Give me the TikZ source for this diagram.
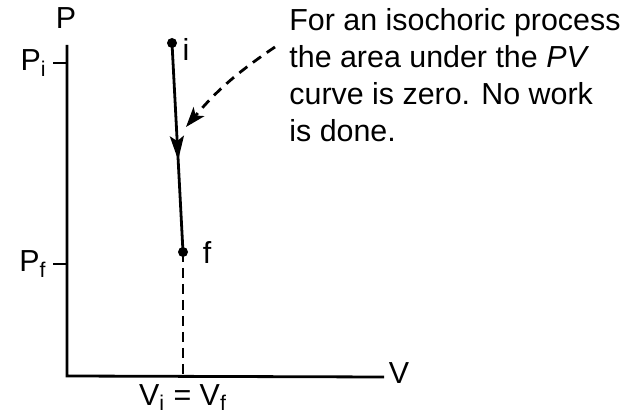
\documentclass[tikz,border=0pt]{standalone}
\usepackage{fontspec}
\setmainfont{Liberation Sans}
\usepackage{tikz}
\usetikzlibrary{arrows.meta,positioning,calc,decorations.markings}

\begin{document}
\begin{tikzpicture}[x=0.5pt, y=-0.5pt, every node/.style={font=\fontsize{15.2}{18.5}\selectfont, inner sep=1pt},
  ax/.style={line width=1.4pt},
  pt/.style={circle, fill, inner sep=0pt, minimum size=5pt},
  midarr/.style={postaction={decorate}, decoration={markings,
    mark=at position 0.56 with {\arrow{Stealth[length=12pt, width=7pt, inset=2.5pt]}}}}]
\useasboundingbox (0,0) rectangle (626,416);
% Axes
\coordinate (O) at (67,376);
\coordinate (ytop) at (67,45);
\coordinate (xend) at (384,377);
\draw[ax] (ytop) -- (O) -- (xend);
\node (Plab) at (66,18) {P};
\node (Vlab) at (399,373) {V};
% Ticks
\coordinate (Pi) at (67,63);
\coordinate (Pf) at (67,264);
\draw[ax] (Pi) -- ++(-14,0);
\draw[ax] (Pf) -- ++(-14,0);
\node[left=9pt of Pi] (Pilab) {P\textsubscript{i}};
\node[left=9pt of Pf] (Pflab) {P\textsubscript{f}};
% Process
\node[pt] (i) at (172,43) {};
\node[pt] (f) at (183,252) {};
\node (ilab) at (186,49) {i};
\node (flab) at (207,253) {f};
\draw[ax, midarr] (i.center) -- (f.center);
\coordinate (Vf) at (f |- O);
\draw[ax, dashed, dash pattern=on 5pt off 3pt] (f.center) -- (Vf);
\node[below=3pt of Vf] (Vlab2) {V\textsubscript{i} = V\textsubscript{f}};
% Note
\node[anchor=north west, align=left] (note) at (287,6) {For an isochoric process\\the area under the \textit{PV}\\curve is zero. No work\\is done.};
\coordinate (cs) at (275,47);
\coordinate (ct) at (186,127);
\draw[ax, dashed, dash pattern=on 5pt off 3.5pt, -{Stealth[length=10pt, width=7pt, inset=2.5pt]}] (cs) to[bend right=8] (ct);
\end{tikzpicture}
\end{document}
